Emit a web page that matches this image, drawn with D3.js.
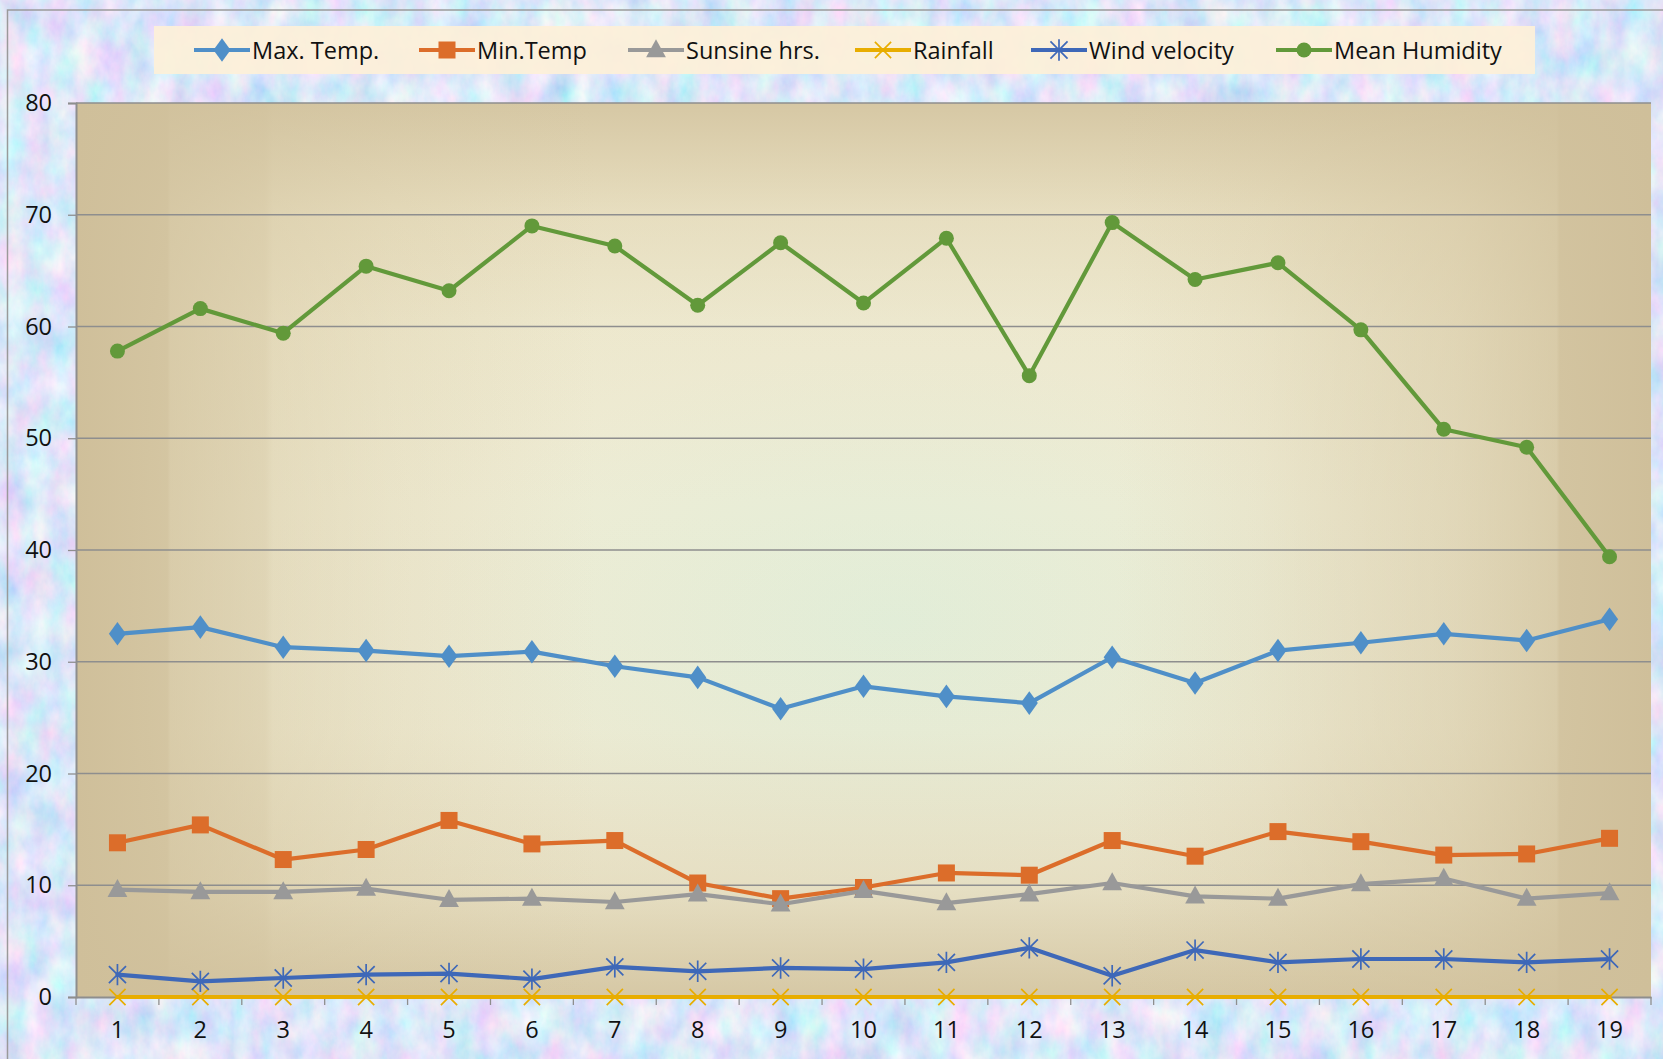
<!DOCTYPE html>
<html><head><meta charset="utf-8">
<script src="https://cdn.jsdelivr.net/npm/d3@7"></script>
<style>html,body{margin:0;padding:0;overflow:hidden;background:#d3ddf4}</style>
</head><body>
<script>
const categories = [1,2,3,4,5,6,7,8,9,10,11,12,13,14,15,16,17,18,19];
const maxTemp = [32.5,33.1,31.3,31.0,30.5,30.9,29.6,28.6,25.8,27.8,26.9,26.3,30.4,28.1,31.0,31.7,32.5,31.9,33.8];
const minTemp = [13.8,15.4,12.3,13.2,15.8,13.7,14.0,10.2,8.8,9.8,11.1,10.9,14.0,12.6,14.8,13.9,12.7,12.8,14.2];
const sunshine = [9.6,9.4,9.4,9.7,8.7,8.8,8.5,9.2,8.3,9.5,8.4,9.2,10.2,9.0,8.8,10.1,10.6,8.8,9.3];
const rainfall = [0,0,0,0,0,0,0,0,0,0,0,0,0,0,0,0,0,0,0];
const windVelocity = [2.0,1.4,1.7,2.0,2.1,1.6,2.7,2.3,2.6,2.5,3.1,4.4,1.9,4.2,3.1,3.4,3.4,3.1,3.4];
const meanHumidity = [57.8,61.6,59.4,65.4,63.2,69.0,67.2,61.9,67.5,62.1,67.9,55.6,69.3,64.2,65.7,59.7,50.8,49.2,39.4];
const seriesNames = ["Max. Temp.","Min.Temp","Sunsine hrs.","Rainfall","Wind velocity","Mean Humidity"];
const yTicks = [0,10,20,30,40,50,60,70,80];

const W = 1663, H = 1059;
const M = {left:76, right:1651, top:103, bottom:997};
const FONT = "'Open Sans', Lato, sans-serif";
const FS = 23.5;

const series = [
  {name:seriesNames[0], values:maxTemp, color:"#4f8fc8", marker:"diamond"},
  {name:seriesNames[1], values:minTemp, color:"#dc6d2a", marker:"square"},
  {name:seriesNames[2], values:sunshine, color:"#999999", marker:"triangle"},
  {name:seriesNames[3], values:rainfall, color:"#e8ad00", marker:"x"},
  {name:seriesNames[4], values:windVelocity, color:"#3e68b8", marker:"star"},
  {name:seriesNames[5], values:meanHumidity, color:"#62993a", marker:"circle"}
];

const svg = d3.select("body").append("svg").attr("width",W).attr("height",H);
const defs = svg.append("defs");

// textured background
const f = defs.append("filter").attr("id","tex").attr("x",0).attr("y",0).attr("width","100%").attr("height","100%");
f.append("feTurbulence").attr("type","fractalNoise").attr("baseFrequency","0.04 0.025").attr("numOctaves",5).attr("seed",3);
f.append("feColorMatrix").attr("type","matrix").attr("values",
  "0.75 0 0 0 0.34  0 0.45 0 0 0.57  0 0 0.15 0 0.87  0 0 0 0 1");

svg.append("rect").attr("width",W).attr("height",H).attr("fill","#c9d5f3");
svg.append("rect").attr("width",W).attr("height",H).attr("filter","url(#tex)");
svg.append("rect").attr("x",7.5).attr("y",10).attr("width",W).attr("height",H+4)
  .attr("fill","none").attr("stroke","#9a9a9a").attr("stroke-width",1.5);

// plot area gradients
const rg = defs.append("radialGradient").attr("id","pc").attr("cx","52%").attr("cy","58%").attr("r","55%");
rg.append("stop").attr("offset","0%").attr("stop-color","#e2eed9");
rg.append("stop").attr("offset","55%").attr("stop-color","#efecd4");
rg.append("stop").attr("offset","100%").attr("stop-color","#f1eacd");

const tan = "#cfbf9a";
const hg = defs.append("linearGradient").attr("id","hg").attr("x1","0").attr("x2","1").attr("y1","0").attr("y2","0");
[[0,1],[0.058,0.85],[0.06,0.7],[0.12,0.5],[0.125,0.35],[0.2,0.18],[0.33,0.0],[0.5,0],[0.66,0.0],[0.75,0.15],[0.8,0.28],[0.875,0.45],[0.94,0.7],[0.942,0.88],[1,1]]
  .forEach(([o,a])=>hg.append("stop").attr("offset",o).attr("stop-color",tan).attr("stop-opacity",a));
const vg = defs.append("linearGradient").attr("id","vg").attr("x1","0").attr("x2","0").attr("y1","0").attr("y2","1");
[[0,0.8],[0.06,0.55],[0.12,0.3],[0.25,0.08],[0.45,0],[0.7,0.04],[0.88,0.3],[0.94,0.55],[1,0.8]]
  .forEach(([o,a])=>vg.append("stop").attr("offset",o).attr("stop-color",tan).attr("stop-opacity",a));

const pw = M.right-M.left, ph = M.bottom-M.top;
svg.append("rect").attr("x",M.left).attr("y",M.top).attr("width",pw).attr("height",ph).attr("fill","url(#pc)");
svg.append("rect").attr("x",M.left).attr("y",M.top).attr("width",pw).attr("height",ph).attr("fill","url(#vg)");
svg.append("rect").attr("x",M.left).attr("y",M.top).attr("width",pw).attr("height",ph).attr("fill","url(#hg)");

const x = d3.scaleBand().domain(categories).range([M.left,M.right]).padding(0);
const cx = d => x(d)+x.bandwidth()/2;
const y = d3.scaleLinear().domain([0,80]).range([M.bottom,M.top]);

// gridlines
svg.append("g").selectAll("line").data(yTicks.filter(t=>t>0)).join("line")
  .attr("x1",M.left).attr("x2",M.right).attr("y1",d=>y(d)).attr("y2",d=>y(d))
  .attr("stroke","#8e8e8e").attr("stroke-width",1.3);

// y axis
const ya = svg.append("g").attr("transform",`translate(${M.left},0)`)
  .call(d3.axisLeft(y).tickValues(yTicks).tickSize(8).tickPadding(16).tickFormat(d3.format("d")));
ya.select(".domain").attr("stroke","#8e8e8e").attr("stroke-width",2);
ya.selectAll(".tick line").attr("stroke","#8e8e8e").attr("stroke-width",1.3);
ya.selectAll("text").attr("font-family",FONT).attr("font-size",FS).attr("fill","#111");

// x axis
const xa = svg.append("g").attr("transform",`translate(0,${M.bottom})`)
  .call(d3.axisBottom(x).tickSize(0).tickPadding(24));
xa.select(".domain").attr("stroke","#8e8e8e").attr("stroke-width",2);
xa.selectAll("text").attr("font-family",FONT).attr("font-size",FS).attr("fill","#111");
xa.append("g").selectAll("line").data(categories.concat([null])).join("line")
  .attr("x1",(d,i)=>M.left+i*x.bandwidth()).attr("x2",(d,i)=>M.left+i*x.bandwidth())
  .attr("y1",0).attr("y2",8).attr("stroke","#8e8e8e").attr("stroke-width",1.3);

function drawMarker(g, type, color, s){
  if(type==="diamond"){
    g.append("path").attr("d",`M0,${-s*0.62}L${s*0.45},0L0,${s*0.62}L${-s*0.45},0Z`).attr("fill",color);
  } else if(type==="square"){
    g.append("rect").attr("x",-s*0.5).attr("y",-s*0.5).attr("width",s).attr("height",s).attr("fill",color);
  } else if(type==="triangle"){
    g.append("path").attr("d",`M0,${-s*0.6}L${s*0.55},${s*0.4}L${-s*0.55},${s*0.4}Z`).attr("fill",color);
  } else if(type==="x"){
    const r=s*0.45;
    g.append("path").attr("d",`M${-r},${-r}L${r},${r}M${-r},${r}L${r},${-r}`).attr("stroke",color).attr("stroke-width",1.7);
  } else if(type==="star"){
    const r=s*0.45;
    g.append("path").attr("d",`M${-r},${-r}L${r},${r}M${-r},${r}L${r},${-r}M0,${-r*1.25}L0,${r*1.25}`).attr("stroke",color).attr("stroke-width",1.7);
  } else if(type==="circle"){
    g.append("circle").attr("r",s*0.5).attr("fill",color);
  }
}
const msize = {diamond:19, square:17, triangle:18, x:18, star:19, circle:15};

const line = d3.line().x((d,i)=>cx(categories[i])).y(d=>y(d));
series.forEach(s=>{
  const g = svg.append("g");
  g.append("path").datum(s.values).attr("d",line).attr("fill","none")
    .attr("stroke",s.color).attr("stroke-width",4.2).attr("stroke-linejoin","round").attr("stroke-linecap","round");
  s.values.forEach((v,i)=>{
    const mg = g.append("g").attr("transform",`translate(${cx(categories[i])},${y(v)})`);
    drawMarker(mg, s.marker, s.color, msize[s.marker]);
  });
});

// legend
svg.append("rect").attr("x",154).attr("y",26).attr("width",1381).attr("height",48)
  .attr("fill","#fdf0d8").attr("opacity",0.93);
const legendX = [194,419,628,855,1031,1276];
series.forEach((s,i)=>{
  const g = svg.append("g").attr("transform",`translate(${legendX[i]},50)`);
  g.append("line").attr("x1",0).attr("x2",56).attr("y1",0).attr("y2",0).attr("stroke",s.color).attr("stroke-width",4.2);
  const mg = g.append("g").attr("transform","translate(28,0)");
  drawMarker(mg, s.marker, s.color, msize[s.marker]);
  g.append("text").attr("x",58).attr("y",8.5).attr("font-family",FONT).attr("font-size",FS).attr("fill","#111").text(s.name);
});
</script>
</body></html>
